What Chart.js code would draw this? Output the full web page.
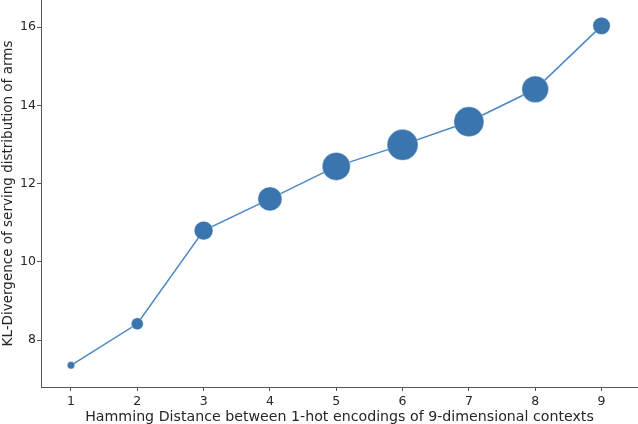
<!DOCTYPE html>
<html>
<head>
<meta charset="utf-8">
<script src="https://cdn.jsdelivr.net/npm/chart.js@4"></script>
<style>
  html, body { margin: 0; padding: 0; background: #ffffff; }
  #wrap { width: 638px; height: 424px; position: relative; }
</style>
</head>
<body>
<div id="wrap"><canvas id="c"></canvas></div>
<script>
// ---- Data ----
const hammingDistance = [1, 2, 3, 4, 5, 6, 7, 8, 9];
const klDivergence = [7.36, 8.42, 10.80, 11.61, 12.44, 12.99, 13.58, 14.41, 16.03];
const markerWeight = [3.7, 6.0, 9.4, 12.0, 14.0, 15.5, 15.0, 13.3, 8.7];
const xTicks = [1, 2, 3, 4, 5, 6, 7, 8, 9];
const yTicks = [8, 10, 12, 14, 16];
const xTitle = 'Hamming Distance between 1-hot encodings of 9-dimensional contexts';
const yTitle = 'KL-Divergence of serving distribution of arms';

const points = hammingDistance.map((x, i) => ({ x: x, y: klDivergence[i] }));

const textColor = '#262626';
const spineColor = '#555555';
const font = "'DejaVu Sans', sans-serif";

new Chart(document.getElementById('c'), {
  type: 'line',
  data: {
    datasets: [{
      data: points,
      borderColor: '#4a87c4',
      borderWidth: 1.5,
      backgroundColor: '#3a75ae',
      pointBackgroundColor: '#3a75ae',
      pointBorderColor: 'rgba(255,255,255,0.6)',
      pointBorderWidth: 0.6,
      pointRadius: markerWeight,
      pointHoverRadius: markerWeight,
      tension: 0,
      fill: false,
      clip: false
    }]
  },
  options: {
    responsive: true,
    maintainAspectRatio: false,
    animation: false,
    events: [],
    layout: { autoPadding: false, padding: { left: 0, right: 0, top: 0, bottom: 0 } },
    plugins: {
      legend: { display: false },
      tooltip: { enabled: false }
    },
    scales: {
      x: {
        type: 'linear',
        min: 0.548,
        max: 9.55,
        afterBuildTicks: (s) => { s.ticks = xTicks.map(v => ({ value: v })); },
        afterFit: (s) => { s.height = 37; s.paddingLeft = 0; s.paddingRight = 0; },
        grid: { drawOnChartArea: false, drawTicks: true, tickLength: 4, tickColor: spineColor, tickWidth: 1 },
        border: { display: true, color: spineColor, width: 1 },
        ticks: { color: textColor, font: { family: font, size: 12.5 }, padding: 3, maxRotation: 0, autoSkip: false },
        title: { display: true, text: xTitle, color: textColor, font: { family: font, size: 14.2 }, padding: { top: 0, bottom: -1.5 } }
      },
      y: {
        type: 'linear',
        min: 6.805,
        max: 16.69,
        afterBuildTicks: (s) => { s.ticks = yTicks.map(v => ({ value: v })); },
        afterFit: (s) => { s.width = 41; s.paddingTop = 0; s.paddingBottom = 0; },
        grid: { drawOnChartArea: false, drawTicks: true, tickLength: 4, tickColor: spineColor, tickWidth: 1 },
        border: { display: true, color: spineColor, width: 1 },
        ticks: { color: textColor, font: { family: font, size: 12.5 }, padding: 1, autoSkip: false },
        title: { display: true, text: yTitle, color: textColor, font: { family: font, size: 13.5 }, padding: 0 }
      }
    }
  }
});
</script>
</body>
</html>
